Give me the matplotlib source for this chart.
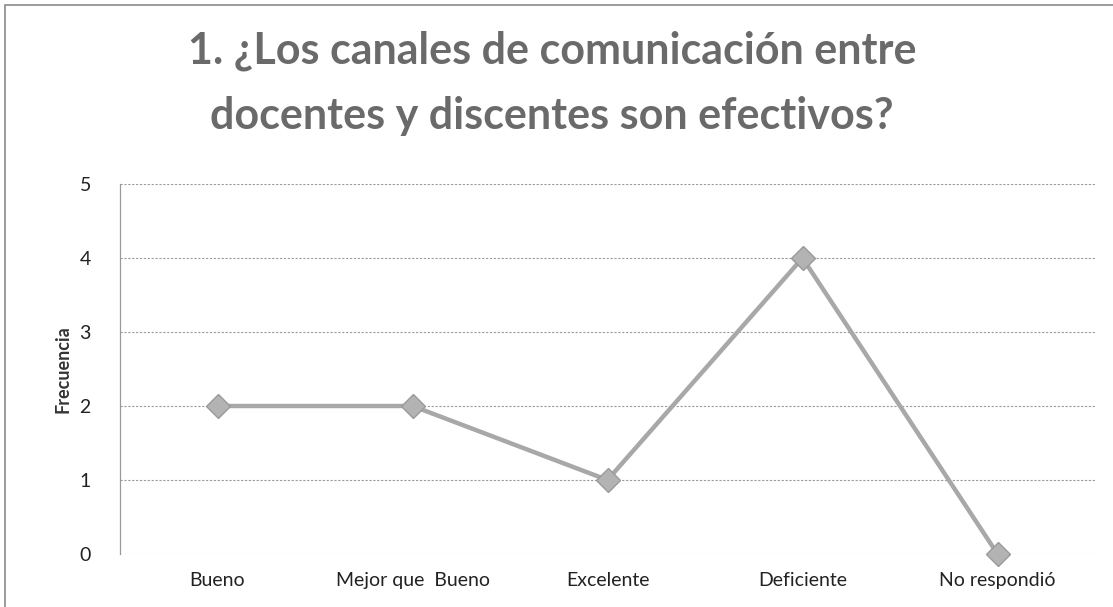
import matplotlib
matplotlib.use("Agg")
import matplotlib.pyplot as plt
from matplotlib.patches import Rectangle

categories = ["Bueno", "Mejor que  Bueno", "Excelente", "Deficiente", "No respondió"]
frecuencia = [2, 2, 1, 4, 0]
y_ticks = [0, 1, 2, 3, 4, 5]
title = "1. ¿Los canales de comunicación entre\ndocentes y discentes son efectivos?"

plt.rcParams['font.family'] = ['Lato', 'DejaVu Sans']

fig = plt.figure(figsize=(11.13, 6.07), dpi=100)
ax = fig.add_axes([120 / 1113, 1 - 554 / 607, 975 / 1113, 370 / 607])

# outer chart border (scanned Excel frame)
fig.patches.append(Rectangle((5 / 1113, -0.02), 1.2, 1 - 5 / 607 + 0.02,
                             transform=fig.transFigure, fill=False,
                             edgecolor="#8a8a8a", linewidth=1.2))

x = list(range(len(categories)))
ax.plot(x, frecuencia, color="#a8a8a8", linewidth=3.2, marker="D",
        markersize=12, markerfacecolor="#b3b3b3", markeredgecolor="#9a9a9a",
        markeredgewidth=1, zorder=3, clip_on=False)

ax.set_xlim(-0.5, len(categories) - 0.5)
ax.set_ylim(0, 5)
ax.set_yticks(y_ticks)
ax.set_xticks(x)
ax.set_xticklabels(categories)
ax.tick_params(axis="both", length=0, labelsize=14, colors="#222222")
ax.tick_params(axis="x", pad=13)
ax.tick_params(axis="y", pad=21)

ax.grid(axis="y", color="#9a9a9a", linestyle=(0, (2, 1.5)), linewidth=0.8)
for side in ["top", "right", "bottom"]:
    ax.spines[side].set_visible(False)
ax.spines["left"].set_color("#9a9a9a")
ax.spines["left"].set_linewidth(0.9)

ax.set_ylabel("Frecuencia", fontsize=13, fontweight="bold", color="#333333", labelpad=6)

fig.text(552 / 1113, 1 - 83 / 607, title, ha="center", va="center",
         fontsize=31, fontweight="bold", color="#6a6a6a", linespacing=1.75)

fig.savefig("out.png", dpi=100)
